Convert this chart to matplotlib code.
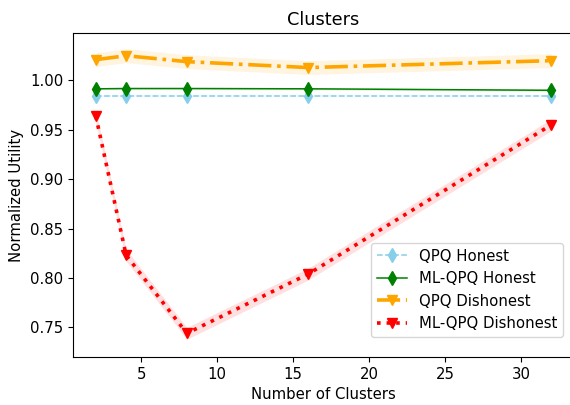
import matplotlib
matplotlib.use("Agg")
import matplotlib.pyplot as plt
import numpy as np

clusters = [2, 4, 8, 16, 32]

qpq_honest = [0.984, 0.984, 0.984, 0.984, 0.984]
qpq_honest_std = [0.0008, 0.0008, 0.0008, 0.0008, 0.0008]

ml_qpq_honest = [0.9915, 0.9918, 0.9918, 0.9915, 0.9900]
ml_qpq_honest_std = [0.001, 0.001, 0.001, 0.001, 0.001]

qpq_dishonest = [1.021, 1.025, 1.019, 1.013, 1.020]
qpq_dishonest_std = [0.007, 0.007, 0.007, 0.007, 0.007]

ml_qpq_dishonest = [0.964, 0.823, 0.744, 0.804, 0.955]
ml_qpq_dishonest_std = [0.006, 0.006, 0.006, 0.006, 0.006]

series = [
    ("QPQ Honest", qpq_honest, qpq_honest_std, "skyblue", "--", "d", 1.1),
    ("ML-QPQ Honest", ml_qpq_honest, ml_qpq_honest_std, "green", "-", "d", 1.1),
    ("QPQ Dishonest", qpq_dishonest, qpq_dishonest_std, "orange", "-.", "v", 2.6),
    ("ML-QPQ Dishonest", ml_qpq_dishonest, ml_qpq_dishonest_std, "red", ":", "v", 2.6),
]

FONT = 10.7


def main() -> None:
    plt.rcParams["xtick.labelsize"] = FONT
    plt.rcParams["ytick.labelsize"] = FONT

    fig = plt.figure(figsize=(5.7, 4.05), dpi=100)
    ax = fig.add_axes([73 / 570, 1 - 357 / 405, 501 / 570, 324 / 405])

    x = np.array(clusters)
    for label, values, std, color, style, marker, width in series:
        values = np.array(values)
        std = np.array(std)
        ax.fill_between(x, values - std, values + std, color=color, alpha=0.12, linewidth=0)
        ax.plot(
            x,
            values,
            linestyle=style,
            marker=marker,
            color=color,
            linewidth=width,
            markersize=7.4,
            label=label,
        )

    ax.set_xlim(0.5, 33.5)
    ax.set_ylim(0.720, 1.048)
    ax.set_yticks([0.75, 0.80, 0.85, 0.90, 0.95, 1.00])
    ax.set_xticks([5, 10, 15, 20, 25, 30])

    ax.set_title("Clusters", fontsize=12.8)
    ax.set_xlabel("Number of Clusters", fontsize=FONT)
    ax.set_ylabel("Normalized Utility", fontsize=FONT)

    ax.legend(
        loc="lower right",
        bbox_to_anchor=(0.978, 0.062),
        borderaxespad=0,
        fontsize=FONT,
    )

    fig.savefig("out.png", dpi=100)


if __name__ == "__main__":
    main()
